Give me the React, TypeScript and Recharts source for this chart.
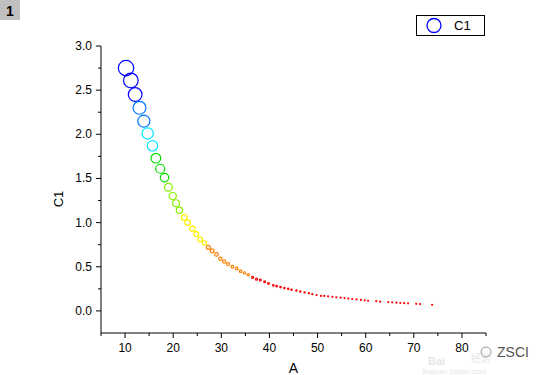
import React from 'react';
import { ScatterChart, Scatter, XAxis, YAxis } from 'recharts';

const xValues = [
  10.2, 11.2, 12.1, 13.0, 13.9, 14.7, 15.7, 16.4, 17.3, 18.2,
  19.0, 19.9, 20.6, 21.3, 22.3, 23.0, 24.0, 24.8, 25.6, 26.5,
  27.3, 28.1, 29.0, 29.8, 30.6, 31.4, 32.3, 33.2, 34.0, 34.8,
  35.6, 36.5, 37.3, 38.1, 39.0, 39.8, 40.8, 41.5, 42.3, 43.1,
  43.9, 44.6, 45.6, 46.4, 47.3, 48.2, 48.9, 49.8, 50.7, 51.4,
  52.2, 53.1, 53.9, 54.8, 55.6, 56.4, 57.2, 58.1, 59.0, 59.8,
  60.5, 62.2, 63.0, 64.7, 65.5, 66.4, 67.2, 68.0, 68.8, 70.5,
  71.3, 73.8,
];
const yValues = [
  2.75, 2.61, 2.45, 2.30, 2.15, 2.01, 1.87, 1.73, 1.61, 1.51,
  1.40, 1.30, 1.22, 1.14, 1.06, 1.00, 0.93, 0.87, 0.81, 0.77,
  0.72, 0.68, 0.64, 0.59, 0.56, 0.53, 0.50, 0.48, 0.45, 0.43,
  0.41, 0.38, 0.36, 0.35, 0.33, 0.31, 0.29, 0.28, 0.27, 0.26,
  0.25, 0.24, 0.23, 0.22, 0.21, 0.20, 0.19, 0.18, 0.17, 0.17,
  0.165, 0.16, 0.155, 0.15, 0.145, 0.14, 0.135, 0.13, 0.125, 0.12,
  0.115, 0.11, 0.105, 0.10, 0.097, 0.093, 0.09, 0.088, 0.086, 0.08,
  0.078, 0.07,
];
const xTicks = [5, 10, 15, 20, 25, 30, 35, 40, 45, 50, 55, 60, 65, 70, 75, 80, 85];
const xMajorTicks = [10, 20, 30, 40, 50, 60, 70, 80];
const yTicks = [0, 0.25, 0.5, 0.75, 1, 1.25, 1.5, 1.75, 2, 2.25, 2.5, 2.75, 3];
const yMajorTicks = [0, 0.5, 1, 1.5, 2, 2.5, 3];
const seriesName = 'C1';
const xTitle = 'A';
const yTitle = 'C1';
const panelLabel = '1';

// colour levels (lower bound of y -> colour)
const levelBounds = [2.4, 2.1, 1.8, 1.45, 1.1, 0.75, 0.4, -Infinity];
const levelColors = ['#0000FF', '#0078FF', '#00E8FF', '#00E000', '#88F000', '#FFF000', '#FF8000', '#FF0000'];

const data = xValues.map((x, i) => ({ x, y: yValues[i] }));

const FONT = '"Liberation Sans", Arial, sans-serif';

function colorFor(y: number) {
  for (let i = 0; i < levelBounds.length; i++) {
    if (y >= levelBounds[i]) return levelColors[i];
  }
  return levelColors[levelColors.length - 1];
}

const Bubble = (props: any) => {
  const { cx, cy, payload } = props;
  if (cx == null || cy == null) return null;
  const r = Math.max(0.5, payload.y * 2.8);
  return (
    <circle cx={cx} cy={cy} r={r} fill="none" stroke={colorFor(payload.y)} strokeWidth={1.2} />
  );
};

const fmtY = (v: number) => v.toFixed(1);

const XTick = (props: any) => {
  const { x, y, payload } = props;
  const major = xMajorTicks.includes(payload.value);
  return (
    <g>
      <line x1={x} y1={y} x2={x} y2={y + (major ? 5 : 3)} stroke="#000" strokeWidth={1} />
      {major && (
        <text x={x} y={y + 19} textAnchor="middle" fontSize={12} fontFamily={FONT} fill="#000">
          {payload.value}
        </text>
      )}
    </g>
  );
};

const YTick = (props: any) => {
  const { x, y, payload } = props;
  const major = yMajorTicks.includes(payload.value);
  return (
    <g>
      <line x1={x - (major ? 5 : 3)} y1={y} x2={x} y2={y} stroke="#000" strokeWidth={1} />
      {major && (
        <text x={x - 9} y={y + 4} textAnchor="end" fontSize={12} fontFamily={FONT} fill="#000">
          {fmtY(payload.value)}
        </text>
      )}
    </g>
  );
};

export default function App() {
  return (
    <div style={{ position: 'absolute', left: 0, top: 0, width: 543, height: 375, background: '#fff' }}>
      <ScatterChart width={543} height={375} margin={{ top: 46, right: 57, left: 0, bottom: 0 }}>
        <XAxis
          type="number"
          dataKey="x"
          domain={[5, 85]}
          ticks={xTicks}
          interval={0}
          tickSize={0}
          tickMargin={0}
          tick={<XTick />}
          height={42}
          axisLine={{ stroke: '#000', strokeWidth: 1 }}
          allowDataOverflow
        />
        <YAxis
          type="number"
          dataKey="y"
          domain={[-0.25, 3]}
          ticks={yTicks}
          interval={0}
          tickSize={0}
          tickMargin={0}
          tick={<YTick />}
          width={101}
          axisLine={{ stroke: '#000', strokeWidth: 1 }}
          allowDataOverflow
        />
        <Scatter name={seriesName} data={data} shape={<Bubble />} isAnimationActive={false} />
      </ScatterChart>
      <svg
        width={543}
        height={375}
        style={{ position: 'absolute', left: 0, top: 0, pointerEvents: 'none' }}
      >
        <rect x={0} y={0} width={20} height={20} fill="#C0C0C0" />
        <text x={10} y={16} textAnchor="middle" fontSize={14} fontWeight="bold" fontFamily={FONT} fill="#000">
          {panelLabel}
        </text>
        <rect x={416.5} y={15.5} width={68} height={20} fill="#fff" stroke="#000" strokeWidth={1} />
        <circle cx={434} cy={25.5} r={7} fill="none" stroke="#0000FF" strokeWidth={1.3} />
        <text x={454} y={30} fontSize={13} fontFamily={FONT} fill="#000">
          {seriesName}
        </text>
        <text x={293.5} y={373} textAnchor="middle" fontSize={14} fontFamily={FONT} fill="#000">
          {xTitle}
        </text>
        <text
          x={0}
          y={0}
          transform="translate(62.5,199) rotate(-90)"
          textAnchor="middle"
          fontSize={13}
          fontFamily={FONT}
          fill="#000"
        >
          {yTitle}
        </text>
        <text x={428} y={365} fontSize={11} fontWeight="bold" fontFamily={FONT} fill="#E6E6E6">
          Bai
        </text>
        <text x={471} y={362} fontSize={10} fontFamily='"Noto Sans CJK SC", sans-serif' fill="#E6E6E6">
          经验
        </text>
        <text x={422} y={374} fontSize={8} fontFamily={FONT} fill="#E6E6E6">
          jingyan.baidu.com
        </text>
        <circle cx={486} cy={352} r={5} fill="none" stroke="#999" strokeWidth={1} />
        <text x={497} y={357} fontSize={14} fontFamily={FONT} fill="#555">
          ZSCI
        </text>
      </svg>
    </div>
  );
}
